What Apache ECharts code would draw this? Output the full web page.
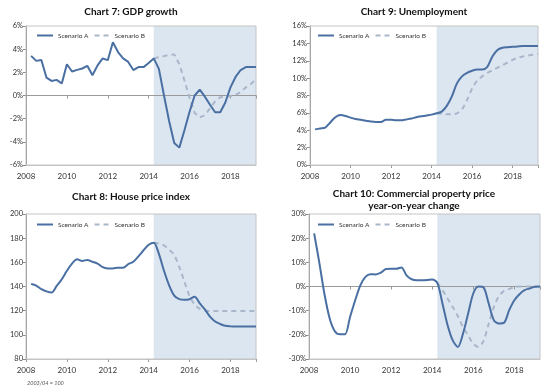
<!DOCTYPE html>
<html><head><meta charset="utf-8">
<script src="https://cdn.jsdelivr.net/npm/echarts@6/dist/echarts.min.js"></script>
<style>html,body{margin:0;padding:0;background:#fff}#c{width:550px;height:392px}</style>
</head><body><div id="c"></div>
<script>
const quarters=[2008.25,2008.5,2008.75,2009,2009.25,2009.5,2009.75,2010,2010.25,2010.5,2010.75,2011,2011.25,2011.5,2011.75,2012,2012.25,2012.5,2012.75,2013,2013.25,2013.5,2013.75,2014,2014.25,2014.5,2014.75,2015,2015.25,2015.5,2015.75,2016,2016.25,2016.5,2016.75,2017,2017.25,2017.5,2017.75,2018,2018.25,2018.5,2018.75,2019,2019.25];
const scenarioStart=2014.25;
const xMin=2008, xMax=2019.25;
const gdpA=[3.42,2.99,3.07,1.55,1.26,1.35,1.04,2.7,2.07,2.21,2.33,2.56,1.75,2.6,3.2,3.05,4.6,3.75,3.2,2.9,2.2,2.45,2.45,2.8,3.2,2.3,0.0,-2.2,-4.1,-4.5,-3.0,-1.4,0.0,0.5,-0.1,-0.8,-1.45,-1.45,-0.6,0.7,1.6,2.2,2.45,2.45,2.45];
const gdpB=[3.2,3.3,3.4,3.5,3.55,2.7,1.3,-0.2,-1.5,-1.9,-1.7,-1.1,-0.5,-0.15,-0.1,-0.05,0.05,0.3,0.7,1.0,1.4];
const unempA=[4.1,4.2,4.3,4.9,5.5,5.75,5.65,5.45,5.3,5.2,5.1,5.0,4.95,4.95,5.2,5.2,5.15,5.15,5.25,5.35,5.5,5.6,5.7,5.8,5.95,6.15,6.8,7.9,9.4,10.2,10.6,10.85,11.0,11.0,11.3,12.5,13.25,13.5,13.55,13.6,13.65,13.7,13.7,13.7,13.7];
const unempB=[5.95,5.9,5.85,5.85,5.95,6.4,7.5,8.8,9.7,10.2,10.6,10.9,11.2,11.5,11.8,12.1,12.35,12.5,12.6,12.7,12.8];
const houseA=[142,140.8,137.8,136,135,140.5,146,153,159,162.5,161.2,162,160.5,159,156,155,155,155.5,155.5,158.5,160.5,165,170,174.5,176.3,167,153,141,132.5,129.5,129,129.5,131.5,126,121,115,111,109,107.5,107,106.8,106.8,106.8,106.8,106.8];
const houseB=[176.3,175.5,174,170.5,166,156,144,132,125,121.5,120,119.8,119.8,119.8,119.8,119.8,119.8,119.8,119.8,119.8,119.8];
const commA=[22,10,-3,-13,-18.4,-19.8,-19.8,-12.6,-5.7,0.5,4.0,5.1,5.0,5.7,7.2,7.3,7.3,7.9,4.6,3.0,2.6,2.6,2.7,2.9,1.5,-7,-16,-22.3,-25,-19.5,-11.2,-2.9,0,-0.4,-7,-13.9,-15.3,-15,-9.8,-5.7,-3.2,-1.5,-0.8,-0.1,0];
const commB=[1.5,-1.5,-5,-8.5,-12.3,-16.8,-20.2,-23.7,-25,-22.5,-15.5,-8.5,-4,-1.8,-1,-0.3,0,0,0,0,0];
const seriesNames=['Scenario A','Scenario B'];
const titles=['Chart 7: GDP growth','Chart 9: Unemployment','Chart 8: House price index','Chart 10: Commercial property price\nyear-on-year change'];
const footnote='2003/04 = 100';

const FONT='Lato, "Noto Sans", sans-serif';
const colA='#4a6fa3', colB='#a9b7ca', shade='#dce6f1';
const iconA='path://M0,0H16V2H0Z';
const iconB='path://M0,0H5V2H0Z M9,0H14V2H9Z';
const panels=[
  {grid:[26,26,230,139], y:[-6,6,2], pct:true, a:gdpA, b:gdpB, zero:true, smooth:false, title:[131,12], leg:[37,32]},
  {grid:[310,26,228,139], y:[0,16,2], pct:true, a:unempA, b:unempB, zero:false, smooth:0.3, title:[414,12], leg:[318,32]},
  {grid:[26,214,230,145], y:[80,200,20], pct:false, a:houseA, b:houseB, zero:false, smooth:0.3, title:[131,197], leg:[37,221]},
  {grid:[309,214,231,145], y:[-30,30,10], pct:true, a:commA, b:commB, zero:true, smooth:0.3, title:[414,200], leg:[318,221]}
];
const qB=quarters.filter(q=>q>=scenarioStart);
const grids=[], xAxes=[], yAxes=[], series=[], legends=[], graphics=[];
panels.forEach((p,i)=>{
  grids.push({left:p.grid[0],top:p.grid[1],width:p.grid[2],height:p.grid[3],show:true,borderColor:'#c4c4c4',borderWidth:1,z:1.5});
  const xi=xAxes.length;
  xAxes.push({type:'value',gridIndex:i,min:xMin,max:xMax,interval:2,position:'bottom',
    axisLine:{show:true,onZero:false,lineStyle:{color:'#c4c4c4'}},
    axisTick:{show:!p.zero,length:3,lineStyle:{color:'#9a9a9a'}},
    splitLine:{show:false},
    axisLabel:{margin:7,fontFamily:FONT,fontSize:8,color:'#333',formatter:v=>(v%2===0?String(v):'')}});
  if(p.zero){
    xAxes.push({type:'value',gridIndex:i,min:xMin,max:xMax,interval:2,position:'bottom',z:1.6,
      axisLine:{show:true,onZero:true,lineStyle:{color:'#9a9a9a',width:1}},
      axisTick:{show:true,length:3,lineStyle:{color:'#9a9a9a'}},
      splitLine:{show:false},axisLabel:{show:false}});
  }
  yAxes.push({type:'value',gridIndex:i,min:p.y[0],max:p.y[1],interval:p.y[2],
    axisLine:{show:true,lineStyle:{color:'#8a8a8a'}},
    axisTick:{show:true,length:3,lineStyle:{color:'#8a8a8a'}},
    splitLine:{show:false},
    axisLabel:{margin:3,fontFamily:FONT,fontSize:7.5,color:'#333',formatter:v=>p.pct?v+'%':String(v)}});
  series.push({name:seriesNames[0],type:'line',xAxisIndex:xi,yAxisIndex:i,symbol:'none',smooth:p.smooth,
    data:quarters.map((q,k)=>[q,p.a[k]]),color:colA,lineStyle:{color:colA,width:2},z:3,
    markArea:{silent:true,itemStyle:{color:shade},data:[[{xAxis:scenarioStart},{xAxis:xMax}]]}});
  series.push({name:seriesNames[1],type:'line',xAxisIndex:xi,yAxisIndex:i,symbol:'none',smooth:p.smooth,
    data:qB.map((q,k)=>[q,p.b[k]]),color:colB,lineStyle:{color:colB,width:2,type:[5,4]},z:2.5});
  legends.push({data:[{name:seriesNames[0],icon:iconA,itemStyle:{color:colA}},{name:seriesNames[1],icon:iconB,itemStyle:{color:colB}}],
    left:p.leg[0],top:p.leg[1],itemWidth:16,itemHeight:2,itemGap:6,selectedMode:false,
    textStyle:{fontFamily:FONT,fontSize:6.5,color:'#333'},padding:0});
  const lines=titles[i].split('\n');
  lines.forEach((t,j)=>graphics.push({type:'text',x:p.title[0],y:p.title[1]+(j-(lines.length-1)/2)*12,
    style:{text:t,fill:'#111',font:'bold 10px '+FONT,textAlign:'center',textVerticalAlign:'middle'}}));
});
graphics.push({type:'text',x:27,y:383,style:{text:footnote,fill:'#555',font:'italic 5.5px '+FONT,textAlign:'left',textVerticalAlign:'middle'}});
const chart=echarts.init(document.getElementById('c'),null,{renderer:'canvas'});
chart.setOption({animation:false,backgroundColor:'#fff',grid:grids,xAxis:xAxes,yAxis:yAxes,series:series,legend:legends,graphic:graphics});
</script></body></html>
